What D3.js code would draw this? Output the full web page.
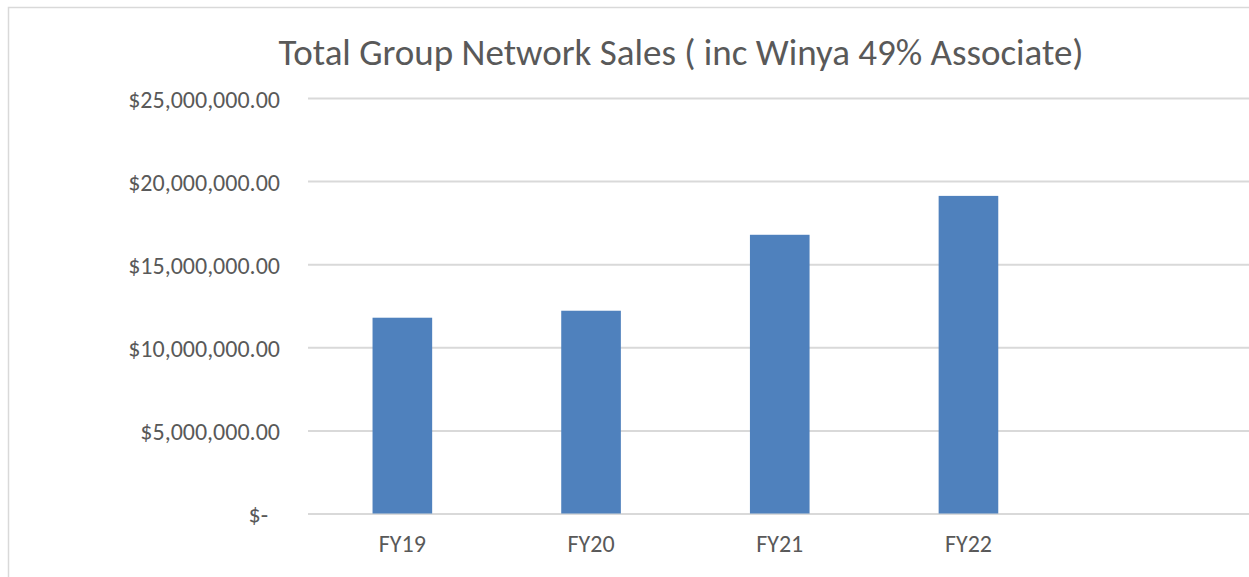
<!DOCTYPE html>
<html>
<head>
<meta charset="utf-8">
<script src="https://cdn.jsdelivr.net/npm/d3@7"></script>
<style>
  body { margin: 0; background: #fff; }
  svg text { font-family: Carlito, Calibri, sans-serif; fill: #595959; }
</style>
</head>
<body>
<div id="chart"></div>
<script>
const title = 'Total Group Network Sales ( inc Winya 49% Associate)'
// the source sheet has an empty fifth row, which keeps a blank slot on the right
const categories = ['FY19', 'FY20', 'FY21', 'FY22', '']
const sales = [11780000, 12200000, 16770000, 19110000]
const yTicks = [0, 5000000, 10000000, 15000000, 20000000, 25000000]

const w = 1249,
      h = 577,
      plotLeft = 308,
      plotRight = 1251.5,
      plotTop = 98,
      plotBottom = 513.5

const svg = d3.select('#chart')
              .append('svg')
              .attr('width', w)
              .attr('height', h)

// outer chart frame (runs past the right and bottom edges of the picture)
svg.append('rect')
   .attr('x', 8.5)
   .attr('y', 7.5)
   .attr('width', 1300)
   .attr('height', 650)
   .attr('fill', 'none')
   .attr('stroke', '#d9d9d9')
   .attr('stroke-width', 1.5)

const xScale = d3.scaleBand()
                 .domain(categories)
                 .range([plotLeft, plotRight])
                 .paddingInner(0.684)
                 .paddingOuter(0.342)

const yScale = d3.scaleLinear()
                 .domain([0, 25000000])
                 .range([plotBottom, plotTop])

const money = d3.format(',.2f')

const yAxis = svg.append('g')
                 .attr('transform', 'translate(' + plotLeft + ',0)')
                 .call(d3.axisLeft(yScale)
                         .tickValues(yTicks)
                         .tickSize(-(plotRight - plotLeft))
                         .tickPadding(28)
                         .tickFormat((d) => d === 0 ? '$-' : '$' + money(d)))

yAxis.select('.domain').remove()
yAxis.selectAll('.tick line')
     .attr('stroke', '#d9d9d9')
     .attr('stroke-width', 2)
yAxis.selectAll('.tick text')
     .attr('font-size', '24px')
     .attr('dy', '0.38em')
     // accounting format leaves the dash short of the right edge
     .attr('dx', (d) => d === 0 ? -12 : 0)

svg.selectAll('rect.bar')
   .data(sales)
   .enter()
   .append('rect')
   .attr('class', 'bar')
   .attr('x', (d, i) => xScale(categories[i]))
   .attr('y', (d) => yScale(d))
   .attr('width', xScale.bandwidth())
   .attr('height', (d) => plotBottom - yScale(d))
   .attr('fill', '#4f81bd')

const xAxis = svg.append('g')
                 .attr('transform', 'translate(0,' + plotBottom + ')')
                 .call(d3.axisBottom(xScale).tickSize(0))

xAxis.select('.domain').remove()
xAxis.selectAll('.tick text')
     .attr('font-size', '24px')
     .attr('dy', null)
     .attr('y', 38.5)

svg.append('text')
   .attr('x', 681)
   .attr('y', 65)
   .attr('text-anchor', 'middle')
   .attr('font-size', '37px')
   .text(title)
</script>
</body>
</html>
